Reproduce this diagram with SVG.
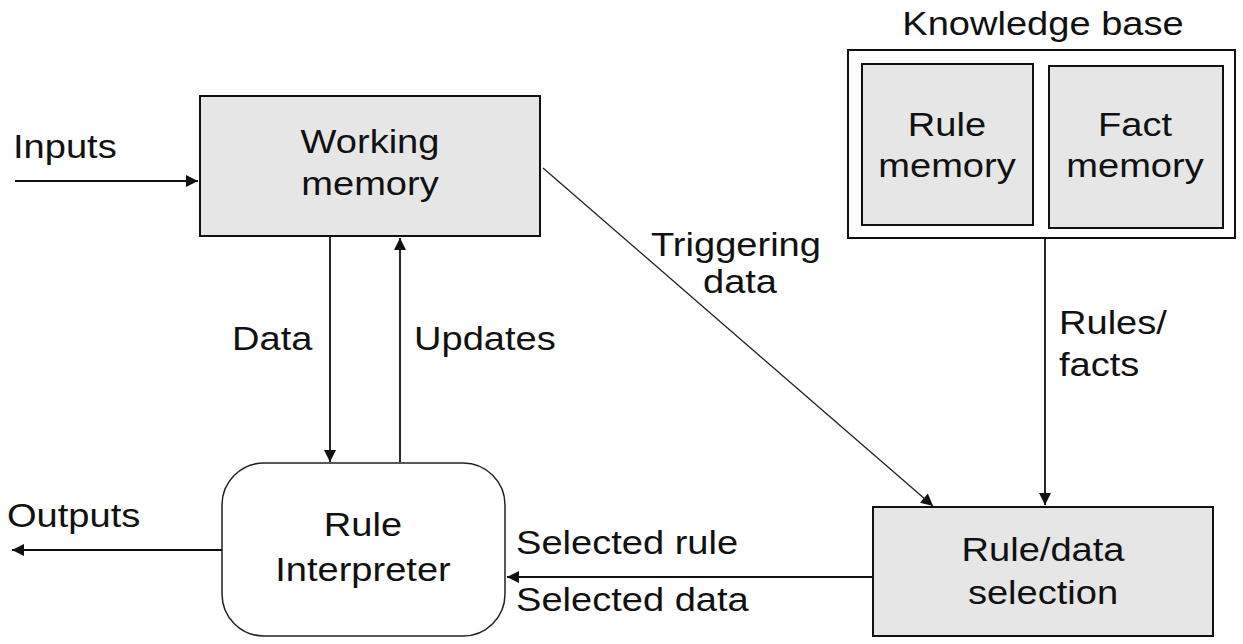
<svg xmlns="http://www.w3.org/2000/svg" width="1243" height="644" viewBox="0 0 1243 644">
<style>
.box{fill:#e6e6e6;stroke:#111;stroke-width:2}
.wbox{fill:none;stroke:#111;stroke-width:2}
.rbox{fill:#fff;stroke:#222;stroke-width:1.5}
.t{font-family:"Liberation Sans",Arial,sans-serif;font-size:34px;fill:#111;text-anchor:middle}
.l{text-anchor:start}
.c{stroke:#111;stroke-width:1.8;fill:none}
.thin{stroke:#222;stroke-width:1.3}
</style>
<defs>
<marker id="ah" viewBox="0 0 10 10" refX="10" refY="5" markerWidth="24" markerHeight="12" markerUnits="userSpaceOnUse" orient="auto">
<path d="M0,0 L10,5 L0,10 z" fill="#111"/>
</marker>
</defs>
<rect width="1243" height="644" fill="#fff"/>
<g id="connectors">
<line class="c" x1="15" y1="181" x2="198" y2="181" marker-end="url(#ah)"/>
<line class="c" x1="330" y1="237" x2="330" y2="462" marker-end="url(#ah)"/>
<line class="c" x1="400" y1="462" x2="400" y2="238" marker-end="url(#ah)"/>
<line class="c thin" x1="543" y1="168" x2="933" y2="506" marker-end="url(#ah)"/>
<line class="c" x1="1045" y1="238" x2="1045" y2="505" marker-end="url(#ah)"/>
<line class="c" x1="873" y1="577" x2="507" y2="577" marker-end="url(#ah)"/>
<line class="c" x1="222" y1="550" x2="12" y2="550" marker-end="url(#ah)"/>
</g>
<g id="labels">
<text class="t l" transform="translate(13,158) scale(1.12,1)">Inputs</text>
<text class="t l" transform="translate(232,350) scale(1.12,1)">Data</text>
<text class="t l" transform="translate(414,350) scale(1.12,1)">Updates</text>
<text class="t" transform="translate(736,256) scale(1.12,1)">Triggering</text>
<text class="t" transform="translate(740,293) scale(1.12,1)">data</text>
<text class="t l" transform="translate(1059,334) scale(1.12,1)">Rules/</text>
<text class="t l" transform="translate(1059,376) scale(1.12,1)">facts</text>
<text class="t l" transform="translate(7,527) scale(1.12,1)">Outputs</text>
<text class="t l" transform="translate(516,554) scale(1.12,1)">Selected rule</text>
<text class="t l" transform="translate(516,611) scale(1.12,1)">Selected data</text>
</g>
<g id="working-memory">
<rect class="box" x="200" y="96" width="340" height="140"/>
<text class="t" transform="translate(370,153) scale(1.12,1)">Working</text>
<text class="t" transform="translate(370,195) scale(1.12,1)">memory</text>
</g>
<g id="knowledge-base">
<text class="t" transform="translate(1043,35) scale(1.12,1)">Knowledge base</text>
<rect class="wbox" x="848" y="50" width="387" height="188"/>
</g>
<g id="rule-memory">
<rect class="box" x="862" y="64" width="171" height="161"/>
<text class="t" transform="translate(947,136) scale(1.12,1)">Rule</text>
<text class="t" transform="translate(947,177) scale(1.12,1)">memory</text>
</g>
<g id="fact-memory">
<rect class="box" x="1049" y="66" width="174" height="162"/>
<text class="t" transform="translate(1135,136) scale(1.12,1)">Fact</text>
<text class="t" transform="translate(1135,177) scale(1.12,1)">memory</text>
</g>
<g id="rule-interpreter">
<rect class="rbox" x="222" y="463" width="283" height="173" rx="42" ry="42"/>
<text class="t" transform="translate(363,536) scale(1.12,1)">Rule</text>
<text class="t" transform="translate(363,581) scale(1.12,1)">Interpreter</text>
</g>
<g id="rule-data-selection">
<rect class="box" x="873" y="507" width="340" height="129"/>
<text class="t" transform="translate(1043,561) scale(1.12,1)">Rule/data</text>
<text class="t" transform="translate(1043,604) scale(1.12,1)">selection</text>
</g>
</svg>
